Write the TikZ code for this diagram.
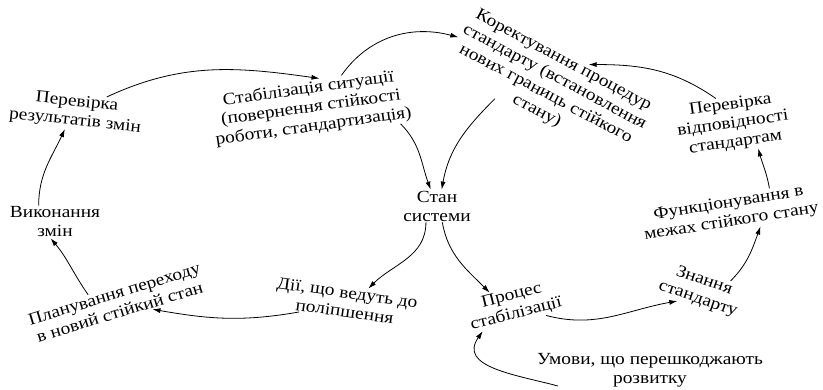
\documentclass[tikz,border=0pt]{standalone}
\usepackage{fontspec}
\setmainfont{Liberation Serif}
\newfontfamily\diagfont{Liberation Serif}[FakeStretch=1.14]
\usetikzlibrary{arrows.meta,calc}

\begin{document}
\begin{tikzpicture}[x=1pt,y=1pt,>={Latex[length=8pt,width=5pt]},
  every node/.style={font=\diagfont\fontsize{17}{19}\selectfont,align=center,inner sep=1pt},
  link/.style={->,line width=0.8pt}]
  \useasboundingbox (0,0) rectangle (823,390);
  % left loop
  \node[rotate=-6] (resH) at (76,278) {Перевірка\\результатів змін};
  \node[rotate=8] (stab) at (311,282) {Стабілізація ситуації\\(повернення стійкості\\роботи, стандартизація)};
  \node (exec) at (55,168) {Виконання\\змін};
  \node[rotate=17] (plan) at (117,87) {Планування переходу\\в новий стійкий стан};
  \node[rotate=-8] (act) at (346,88) {Дії, що ведуть до\\поліпшення};
  % centre
  \node (state) at (437,184) {Стан\\системи};
  % right loop
  \node[rotate=-28] (corr) at (550,304) {Коректування процедур\\стандарту (встановлення\\нових границь стійкого\\стану)};
  \node[rotate=8] (chkS) at (733,266) {Перевірка\\відповідності\\стандартам};
  \node[rotate=9] (func) at (730,177) {Функціонування в\\межах стійкого стану};
  \node[rotate=-19] (know) at (701,100) {Знання\\стандарту};
  \node[rotate=14] (proc) at (514,85) {Процес\\стабілізації};
  \node (cond) at (650,20) {Умови, що перешкоджають\\розвитку};

  \draw[link] (resH.32) to[out=25,in=172] (stab.66);
  \draw[link] (stab.39) to[out=55,in=165] (corr.180);
  \draw[link] (chkS.116) to[out=145,in=0] (corr.57);
  \draw[link] (func.23) to[out=100,in=-75] (chkS.-52);
  \draw[link] (know.36) to[out=45,in=-110] (func.-33);
  \draw[link] (proc.-32) to[out=-15,in=190] (know.-136);
  \draw[link] ($(cond.west)+(22,-16)$) to[out=165,in=235,looseness=1.2] (proc.-154);
  \draw[link] (state.-72) to[out=-80,in=135] (proc.139);
  \draw[link] (state.-124) to[out=-90,in=45] (act.39);
  \draw[link] (stab.-18) to[out=-45,in=110] (state.111);
  \draw[link] (corr.-139) to[out=-135,in=80] (state.74);
  \draw[link] (act.-160) to[out=190,in=-10] (plan.-27);
  \draw[link] (plan.147) to[out=125,in=-50] (exec.-105);
  \draw[link] (exec.135) to[out=90,in=-115] (resH.-117);
\end{tikzpicture}
\end{document}
